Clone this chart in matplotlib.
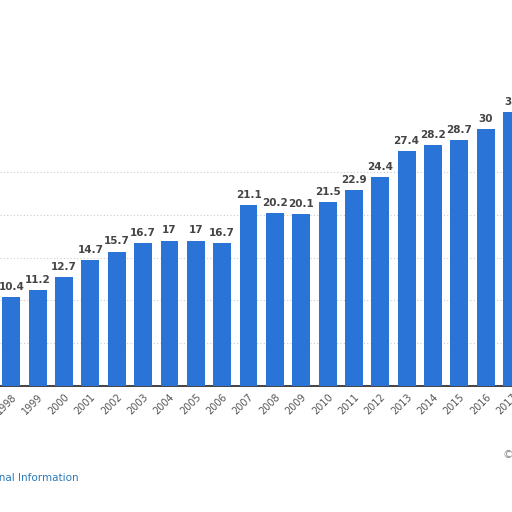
import matplotlib
matplotlib.use("Agg")
import matplotlib.pyplot as plt

years = [str(y) for y in range(1998, 2018)]
values = [10.4, 11.2, 12.7, 14.7, 15.7, 16.7, 17, 17, 16.7, 21.1, 20.2, 20.1,
          21.5, 22.9, 24.4, 27.4, 28.2, 28.7, 30, 32]
labels = ["10.4", "11.2", "12.7", "14.7", "15.7", "16.7", "17", "17", "16.7", "21.1",
          "20.2", "20.1", "21.5", "22.9", "24.4", "27.4", "28.2", "28.7", "30", "32"]

fig = plt.figure(figsize=(5.12, 5.12), dpi=100)
ax = fig.add_axes([0, 126/512, 1, 386/512])
x = list(range(len(years)))
ax.bar(x, values, width=0.68, color="#2a74d8", zorder=3)
for xi, v, l in zip(x, values, labels):
    ax.text(xi, v + 0.6, l, ha="center", va="bottom", fontsize=7.5,
            fontweight="bold", color="#444444", zorder=4)
ax.set_xlim(-0.433, 18.84)
ax.set_ylim(0, 45.1)
ax.set_yticks(range(5, 30, 5))
ax.yaxis.grid(True, linestyle=(0, (1, 2)), color="#cccccc", linewidth=0.8, zorder=0)
ax.tick_params(axis="y", left=False, labelleft=False)
ax.set_xticks(x)
ax.set_xticklabels(years, rotation=45, ha="right", rotation_mode="anchor",
                   fontsize=7, color="#555555")
ax.tick_params(axis="x", length=0, pad=4)
for s in ["top", "right", "left"]:
    ax.spines[s].set_visible(False)
ax.spines["bottom"].set_color("#222222")
ax.spines["bottom"].set_linewidth(1.2)
fig.text(-0.075, 1 - 478/512, "Additional Information", color="#2a7ab8", fontsize=7.5,
         ha="left", va="center")
fig.text(503/512, 1 - 455/512, "©", color="#888888", fontsize=8, ha="left", va="center")
fig.savefig("out.png", dpi=100)
